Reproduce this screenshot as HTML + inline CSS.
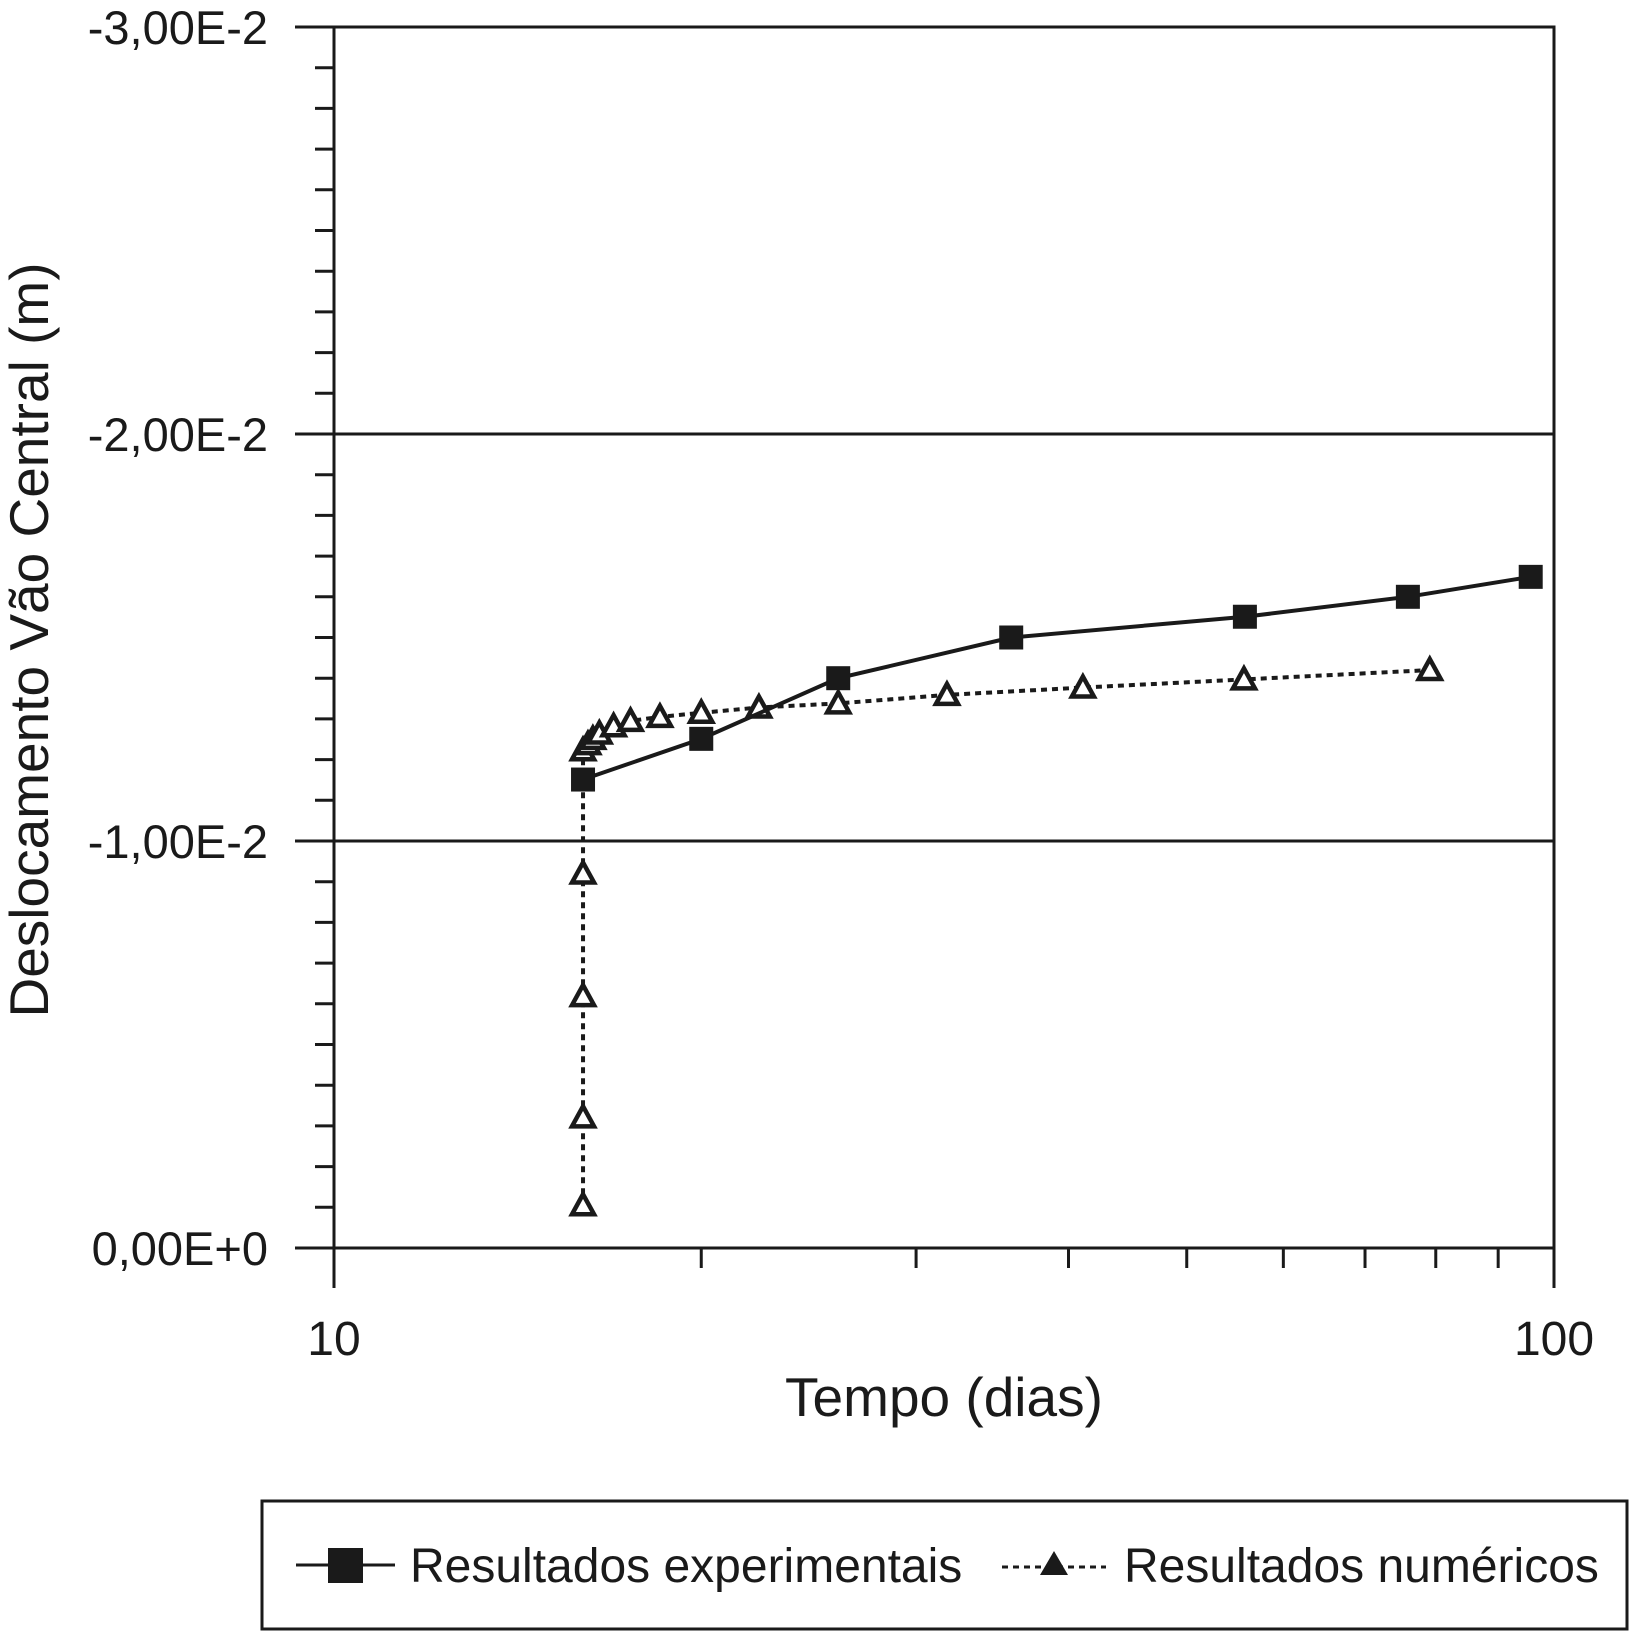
<!DOCTYPE html>
<html><head><meta charset="utf-8"><style>
html,body{margin:0;padding:0;background:#fff}
svg{display:block;font-family:"Liberation Sans",Arial,sans-serif}
</style></head><body>
<svg id="chart" width="1629" height="1641" viewBox="0 0 1629 1641" xmlns="http://www.w3.org/2000/svg"></svg>
<script>
const expT = [16.0, 20.0, 25.9, 35.9, 55.8, 75.9, 95.7];
const expV = [-0.01151, -0.01251, -0.01400, -0.01500, -0.01551, -0.01600, -0.01649];
const numT = [16.0, 16.0, 16.0, 16.0, 16.0, 16.15, 16.3, 16.5, 16.95, 17.5, 18.5, 20.0, 22.3, 25.9, 31.8, 41.1, 55.7, 79.1];
const numV = [-0.00105, -0.00321, -0.00619, -0.00920, -0.01223, -0.01238, -0.01251, -0.01264, -0.01282, -0.01295, -0.01305, -0.01315, -0.01328, -0.01338, -0.01359, -0.01377, -0.01397, -0.01420];
const yTicks = [0, -0.01, -0.02, -0.03];
const yTickLabels = ["0,00E+0", "-1,00E-2", "-2,00E-2", "-3,00E-2"];
const xTicks = [10, 100];
const xTickLabels = ["10", "100"];

const L=334, R=1554, T=27, B=1248;
const xs = t => L + (Math.log10(t) - 1) * (R - L);
const ys = v => B + (v / 0.03) * (B - T);
const svg = document.getElementById('chart');
const NS = 'http://www.w3.org/2000/svg';
function mk(tag, attrs, parent){const e=document.createElementNS(NS,tag);for(const k in attrs)e.setAttribute(k,attrs[k]);(parent||svg).appendChild(e);return e;}
const st = {stroke:'#1a1a1a','stroke-width':3,fill:'none'};

let e = mk('rect',Object.assign({x:L,y:T,width:R-L,height:B-T},st));
 
yTicks.forEach((v,i)=>{
  const y=ys(v);
  let g=mk('line',Object.assign({x1:295,x2:R,y1:y,y2:y},st));
   
  let t=mk('text',{x:268,y:y+17,'font-size':47,'text-anchor':'end',fill:'#1a1a1a'});
  t.textContent=yTickLabels[i];
   
});
for(let k=1;k<30;k++){ if(k%10===0) continue; const y=ys(-k*0.001);
  let m=mk('line',Object.assign({x1:315,x2:L,y1:y,y2:y},st));
   }
for(let k=2;k<=9;k++){ const x=xs(k*10);
  let m=mk('line',Object.assign({x1:x,x2:x,y1:B,y2:B+20},st));
   }
xTicks.forEach((v,i)=>{ const x=xs(v);
  let m=mk('line',Object.assign({x1:x,x2:x,y1:B,y2:1288},st));
   
  let t=mk('text',{x:x,y:1355,'font-size':48,'text-anchor':'middle',fill:'#1a1a1a'});
  t.textContent=xTickLabels[i];
   
});
let xt=mk('text',{x:944,y:1416,'font-size':55,'text-anchor':'middle',fill:'#1a1a1a'});
xt.textContent='Tempo (dias)';
 
let yt=mk('text',{x:0,y:0,'font-size':55,'text-anchor':'middle',fill:'#1a1a1a',transform:'translate(48,640) rotate(-90)'});
yt.textContent='Deslocamento Vão Central (m)';
 

let np=numT.map((t,i)=>xs(t)+','+ys(numV[i])).join(' ');
let nl=mk('polyline',{points:np,stroke:'#1a1a1a','stroke-width':4,fill:'none','stroke-dasharray':'6 5'});
 
function tri(cx,cy,p){return mk('polygon',{points:`${cx},${cy-11} ${cx-11},${cy+9} ${cx+11},${cy+9}`,fill:'#fff',stroke:'#1a1a1a','stroke-width':4.5},p);}
numT.forEach((t,i)=>{ let m=tri(xs(t),ys(numV[i]));
   });
let ep=expT.map((t,i)=>xs(t)+','+ys(expV[i])).join(' ');
let el=mk('polyline',{points:ep,stroke:'#1a1a1a','stroke-width':4,fill:'none'});
 
expT.forEach((t,i)=>{ let m=mk('rect',{x:xs(t)-12,y:ys(expV[i])-12,width:24,height:24,fill:'#1a1a1a'});
   });

let lg=mk('g',{});
 
mk('rect',{x:262,y:1501,width:1365,height:128,fill:'#fff',stroke:'#1a1a1a','stroke-width':3},lg);
let g1=mk('g',{},lg);
 
mk('line',{x1:296,x2:395,y1:1565,y2:1565,stroke:'#1a1a1a','stroke-width':3},g1);
mk('rect',{x:328,y:1548,width:35,height:35,fill:'#1a1a1a'},g1);
let t1=mk('text',{x:410,y:1582,'font-size':48,fill:'#1a1a1a'},g1); t1.textContent='Resultados experimentais';
let g2=mk('g',{},lg);
 
mk('line',{x1:1002,x2:1106,y1:1567,y2:1567,stroke:'#1a1a1a','stroke-width':3,'stroke-dasharray':'6 5'},g2);
mk('polygon',{points:'1054,1551 1040,1575 1068,1575',fill:'#1a1a1a'},g2);
let t2=mk('text',{x:1124,y:1582,'font-size':48,fill:'#1a1a1a'},g2); t2.textContent='Resultados numéricos';
</script>
</body></html>
